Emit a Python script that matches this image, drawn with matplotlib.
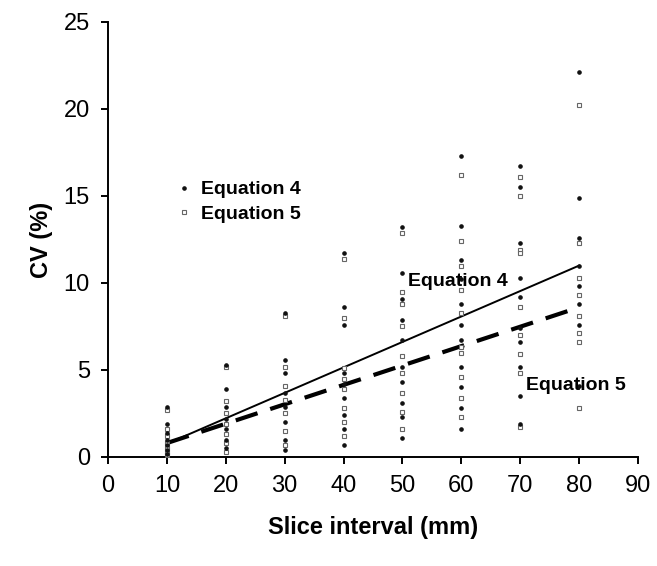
import matplotlib.pyplot as plt

plt.rcParams['font.family'] = ['Liberation Sans', 'DejaVu Sans']

# slice interval (mm) and CV (%) for each column of points
intervals = [10, 20, 30, 40, 50, 60, 70, 80]

eq4_cv = [
    [2.9, 1.9, 1.4, 1.0, 0.7, 0.4, 0.2],
    [5.3, 3.9, 2.9, 2.2, 1.6, 1.0, 0.5],
    [8.3, 5.6, 4.8, 3.7, 2.9, 2.0, 1.0, 0.4],
    [11.7, 8.6, 7.6, 4.8, 4.2, 3.4, 2.4, 1.6, 0.7],
    [13.2, 10.6, 9.1, 7.9, 6.7, 5.2, 4.3, 3.1, 2.3, 1.1],
    [17.3, 13.3, 11.3, 10.2, 8.8, 7.6, 6.7, 5.2, 4.0, 2.8, 1.6],
    [16.7, 15.5, 12.3, 10.3, 9.2, 7.4, 6.6, 5.2, 3.5, 1.9],
    [22.1, 14.9, 12.6, 11.0, 9.8, 8.8, 7.6, 4.1],
]
eq5_cv = [
    [2.7, 1.6, 1.2, 0.8, 0.5, 0.3, 0.1],
    [5.2, 3.2, 2.5, 1.9, 1.3, 0.8, 0.3],
    [8.1, 5.2, 4.1, 3.3, 2.5, 1.5, 0.7],
    [11.4, 8.0, 5.1, 4.5, 3.9, 2.8, 2.0, 1.2],
    [12.9, 9.5, 8.8, 7.5, 5.8, 4.8, 3.7, 2.6, 1.6],
    [16.2, 12.4, 11.0, 9.6, 8.3, 6.3, 6.0, 4.6, 3.4, 2.3],
    [16.1, 15.0, 11.9, 11.7, 8.6, 7.0, 5.9, 4.8, 1.7],
    [20.2, 12.3, 10.3, 9.3, 8.1, 7.1, 6.6, 2.8],
]

# fitted lines (end points)
fit_x = [10, 80]
fit_eq4 = [0.76, 11.0]
fit_eq5 = [0.80, 8.6]

fig = plt.figure(figsize=(6.57, 5.66), dpi=100)
ax = fig.add_axes([0.1644, 0.1926, 0.8067, 0.7686])

x4, y4, x5, y5 = [], [], [], []
for x, a, b in zip(intervals, eq4_cv, eq5_cv):
    x4 += [x] * len(a)
    y4 += a
    x5 += [x] * len(b)
    y5 += b

sq = dict(marker='s', ms=2.2, mfc='white', mec='#666666', mew=0.8, ls='none')
dot = dict(marker='o', ms=2.3, color='#111111', ls='none')

ax.plot(x5, y5, zorder=3, **sq)
ax.plot(x4, y4, zorder=3, **dot)

ax.plot(fit_x, fit_eq4, color='black', lw=1.4, zorder=2)
ax.plot(fit_x, fit_eq5, color='black', lw=3, dashes=(5.5, 3.2), zorder=2)

h4, = ax.plot([], [], **dot)
h5, = ax.plot([], [], **sq)
ax.legend([h4, h5], ['Equation 4', 'Equation 5'], loc='upper left',
          bbox_to_anchor=(0.095, 0.675), frameon=False, handlelength=0.8,
          handletextpad=0.5, labelspacing=0.35,
          prop={'weight': 'bold', 'size': 14})

ax.text(51, 10.1, 'Equation 4', fontsize=14, fontweight='bold', va='center')
ax.text(71, 4.1, 'Equation 5', fontsize=14, fontweight='bold', va='center')

ax.set_xlim(0, 90)
ax.set_ylim(0, 25)
ax.set_xticks(range(0, 91, 10))
ax.set_yticks(range(0, 26, 5))
ax.spines['top'].set_visible(False)
ax.spines['right'].set_visible(False)
for s in ('left', 'bottom'):
    ax.spines[s].set_linewidth(1.4)
ax.tick_params(direction='out', length=5, width=1.4, labelsize=17, pad=8)

ax.set_xlabel('Slice interval (mm)', fontsize=17, fontweight='bold', labelpad=14)
ax.set_ylabel('CV (%)', fontsize=17, fontweight='bold', labelpad=8)

fig.savefig('out.png', dpi=100)
